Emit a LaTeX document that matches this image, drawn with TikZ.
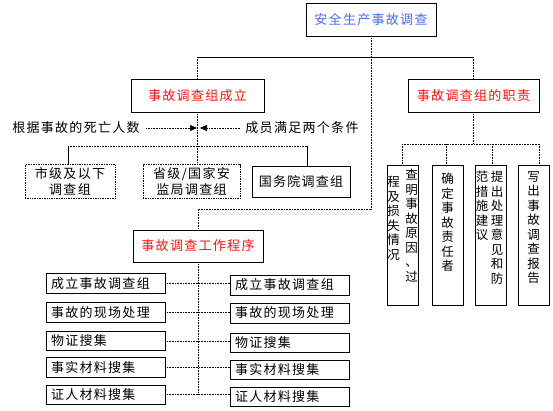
\documentclass[tikz,border=0pt]{standalone}
\usepackage{fontspec}
\setmainfont{Noto Sans CJK SC}[LetterSpace=10]
\newfontfamily\vfont{Noto Sans CJK SC}
\usetikzlibrary{arrows.meta}
\definecolor{topblue}{RGB}{70,110,230}
\definecolor{hdrred}{RGB}{250,20,20}
\begin{document}
\begin{tikzpicture}[x=1pt,y=-1pt,
  box/.style={draw=black, line width=0.7pt, inner sep=0pt, fill=white},
  dbox/.style={box, densely dotted},
  conn/.style={line width=0.6pt, densely dotted},
  sconn/.style={line width=0.6pt},
  arr/.style={line width=0.6pt, densely dotted, -{Triangle[length=7pt,width=6pt]}},
  txt/.style={font=\fontsize{13}{16}\selectfont},
  hdr/.style={box, text=hdrred, font=\fontsize{13}{15}\selectfont},
  rowbox/.style={box, font=\fontsize{13}{15}\selectfont, text width=109pt, inner xsep=5pt, inner ysep=0pt, align=left},
  vbox/.style={box, minimum width=31pt, minimum height=140pt},
  vtxt/.style={font=\vfont\fontsize{12.5}{14.5}\selectfont, align=center, inner sep=0pt, anchor=north}
]
\useasboundingbox (0,0) rectangle (553,410);

% top level
\node[box, minimum width=130pt, minimum height=33pt, text=topblue, font=\fontsize{13}{15}\selectfont] (top) at (371,19.5) {安全生产事故调查};
\node[hdr, minimum width=133pt, minimum height=33pt] (form) at (197.5,95.5) {事故调查组成立};
\node[hdr, minimum width=131pt, minimum height=33pt] (duty) at (473.5,95.5) {事故调查组的职责};

\coordinate (bm) at (371,57);
\coordinate (bl) at (197.5,57);
\coordinate (br) at (473.5,57);
\draw[conn] (top.south) -- (bm);
\draw[sconn] (bl) -- (br);
\draw[conn] (bl) -- (form.north);
\draw[conn] (br) -- (duty.north);

% composition of investigation group
\node[txt] (basis) at (76,128) {根据事故的死亡人数};
\node[txt] (cond) at (302,128) {成员满足两个条件};
\coordinate (m1) at (197,128);
\coordinate (m2) at (200,128);
\draw[arr] ([xshift=3pt]basis.east) -- (m1);
\draw[arr] ([xshift=-2pt]cond.west) -- (m2);

\node[dbox, minimum width=90pt, minimum height=34pt, align=center, font=\fontsize{13}{16}\selectfont] (city) at (70,181.5) {市级及以下\\调查组};
\node[dbox, minimum width=97pt, minimum height=34pt, align=center, font=\fontsize{13}{16}\selectfont] (prov) at (191.5,181.5) {省级/国家安\\监局调查组};
\node[box, minimum width=98pt, minimum height=31pt, font=\fontsize{13}{15}\selectfont] (state) at (301,181.5) {国务院调查组};

\coordinate (sb) at (197.5,146);
\coordinate (sbl) at (68,146);
\coordinate (sbr) at (307,146);
\draw[conn] (form.south) -- (sb);
\draw[conn] (sbl) -- (sbr);
\draw[sconn] (sbl) -- (sbl |- city.north);
\draw[conn] (sb) -- (sb |- prov.north);
\draw[sconn] (sbr) -- (sbr |- state.north);

% working procedure
\node[hdr, minimum width=130pt, minimum height=32pt] (proc) at (198,246) {事故调查工作程序};
\coordinate (tr) at (371,209);
\coordinate (tl) at (198,209);
\draw[conn] (bm) -- (tr) -- (tl) -- (proc.north);

\node[rowbox, minimum height=20pt] (l1) at (105.5,283.5) {成立事故调查组};
\node[rowbox, minimum height=20pt] (l2) at (105.5,312.5) {事故的现场处理};
\node[rowbox, minimum height=19pt] (l3) at (105.5,341) {物证搜集};
\node[rowbox, minimum height=20pt] (l4) at (105.5,367.5) {事实材料搜集};
\node[rowbox, minimum height=19pt] (l5) at (105.5,394.5) {证人材料搜集};

\node[rowbox, minimum height=20pt] (r1) at (289.5,285) {成立事故调查组};
\node[rowbox, minimum height=20pt] (r2) at (289.5,313) {事故的现场处理};
\node[rowbox, minimum height=19pt] (r3) at (289.5,342.5) {物证搜集};
\node[rowbox, minimum height=19pt] (r4) at (289.5,370) {事实材料搜集};
\node[rowbox, minimum height=19pt] (r5) at (289.5,396.5) {证人材料搜集};

\foreach \i in {1,...,5}{
  \draw[conn] (l\i.east) -- (l\i.east -| r\i.west);
}
\draw[conn] (proc.south) -- (proc.south |- l5.east);

% duties
\node[vbox] (d1) at (402.5,235) {};
\node[vbox] (d2) at (447.5,235) {};
\node[vbox] (d3) at (490.5,235) {};
\node[vbox] (d4) at (533.5,235) {};

\node[vtxt] (t1r) at (411.5,169) {查\\明\\事\\故\\原\\因\\、\\过};
\node[vtxt] (t1l) at (393.5,176) {程\\及\\损\\失\\情\\况};
\node[vtxt] (t2) at (447.5,173) {确\\定\\事\\故\\责\\任\\者};
\node[vtxt] (t3r) at (497,171) {提\\出\\处\\理\\意\\见\\和\\防};
\node[vtxt] (t3l) at (482,171) {范\\措\\施\\建\\议};
\node[vtxt] (t4) at (533.5,171) {写\\出\\事\\故\\调\\查\\报\\告};

\coordinate (rb) at (473.5,144);
\coordinate (rb1) at (402,144);
\coordinate (rb2) at (446,144);
\coordinate (rb3) at (492,144);
\coordinate (rb4) at (539,144);
\draw[conn] (duty.south) -- (rb);
\draw[conn] (rb1) -- (rb4);
\draw[conn] (rb1) -- (rb1 |- d1.north);
\draw[conn] (rb2) -- (rb2 |- d2.north);
\draw[conn] (rb3) -- (rb3 |- d3.north);
\draw[conn] (rb4) -- (rb4 |- d4.north);
\end{tikzpicture}
\end{document}
